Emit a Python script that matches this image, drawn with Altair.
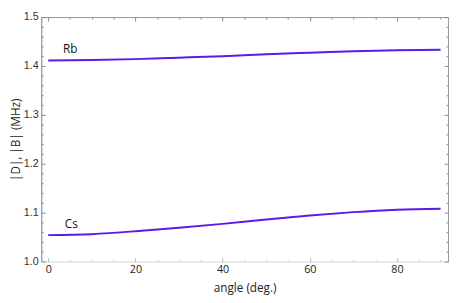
import altair as alt
import pandas as pd

angles = [0, 10, 20, 30, 40, 50, 60, 70, 80, 90]
rb_vals = [1.411, 1.412, 1.414, 1.417, 1.420, 1.424, 1.427, 1.430, 1.432, 1.433]
cs_vals = [1.054, 1.056, 1.062, 1.069, 1.077, 1.086, 1.094, 1.101, 1.106, 1.108]

label_text = ["Rb", "Cs"]
label_x = [3.4, 3.8]
label_y = [1.434, 1.076]

x_major = [0, 20, 40, 60, 80]
x_minor = [5, 10, 15, 25, 30, 35, 45, 50, 55, 65, 70, 75, 85, 90]
y_major = [1.0, 1.1, 1.2, 1.3, 1.4, 1.5]
y_minor = [1.02, 1.04, 1.06, 1.08, 1.12, 1.14, 1.16, 1.18, 1.22, 1.24, 1.26, 1.28,
           1.32, 1.34, 1.36, 1.38, 1.42, 1.44, 1.46, 1.48]

rows = []
for a, v in zip(angles, rb_vals):
    rows.append({"angle": a, "value": v, "atom": "Rb"})
for a, v in zip(angles, cs_vals):
    rows.append({"angle": a, "value": v, "atom": "Cs"})
df = pd.DataFrame(rows)
lab = pd.DataFrame({"text": label_text, "x": label_x, "y": label_y})

XD = [-1.6, 91.7]
YD = [1.0, 1.5]


def xs():
    return alt.Scale(domain=XD, nice=False, zero=False)


def ys():
    return alt.Scale(domain=YD, nice=False, zero=False)


def tick_axis(orient, values, size, domain=False, dcolor="#999999", tcolor="#888888"):
    kw = dict(orient=orient, values=values, labels=False, title=None, grid=False,
              tickSize={"expr": str(-size)}, tickColor=tcolor, tickWidth=1,
              domain=domain)
    if domain:
        kw["domainColor"] = dcolor
        kw["domainWidth"] = 1
    return alt.Axis(**kw)


main = alt.Chart(df).mark_line(color="#5a1be6", strokeWidth=2, interpolate="natural").encode(
    x=alt.X("angle:Q", scale=xs(), axis=alt.Axis(
        orient="bottom", values=x_major, ticks=False, grid=False, domainColor="#e6e6e6",
        labelFont="Open Sans", labelFontSize=11, labelColor="#222222", labelPadding=2,
        title="angle (deg.)", titleFont="Open Sans", titleFontSize=12, titleFontWeight="normal",
        titleColor="#222222", titlePadding=9)),
    y=alt.Y("value:Q", scale=ys(), axis=alt.Axis(
        orient="left", values=y_major, ticks=False, grid=False, domainColor="#888888",
        labelFont="Liberation Sans", labelFontSize=11, labelColor="#333333", labelPadding=3,
        format=".1f",
        title="|D|, |B|  (MHz)", titleFont="Open Sans", titleFontSize=12, titleFontWeight="normal",
        titleColor="#222222", titlePadding=1)),
    detail="atom:N",
)

texts = alt.Chart(lab).mark_text(align="left", baseline="middle", font="Open Sans",
                                 fontSize=12, color="#111111").encode(
    x=alt.X("x:Q", scale=xs(), axis=None),
    y=alt.Y("y:Q", scale=ys(), axis=None),
    text="text:N",
)


def ghost(xax, yax):
    return alt.Chart(df).mark_line(strokeOpacity=0).encode(
        x=alt.X("angle:Q", scale=xs(), axis=xax),
        y=alt.Y("value:Q", scale=ys(), axis=yax),
        detail="atom:N",
    )


l2 = ghost(tick_axis("bottom", x_major, 4, tcolor="#bbbbbb"), tick_axis("left", y_major, 4))
l3 = ghost(tick_axis("bottom", x_minor, 2, tcolor="#cccccc"), tick_axis("left", y_minor, 2))
l4 = ghost(tick_axis("top", x_major, 4, domain=True), tick_axis("right", y_major, 4, domain=True))
l5 = ghost(tick_axis("top", x_minor, 2), tick_axis("right", y_minor, 2))

chart = alt.layer(main, texts, l2, l3, l4, l5).resolve_scale(
    x="independent", y="independent"
).resolve_axis(x="independent", y="independent").properties(
    width=416, height=250, padding={"left": 1, "top": 0, "right": 0, "bottom": 0}
).configure_view(stroke=None).configure(background="white")

chart.save("out.html", embed_options={"renderer": "svg", "actions": False})
